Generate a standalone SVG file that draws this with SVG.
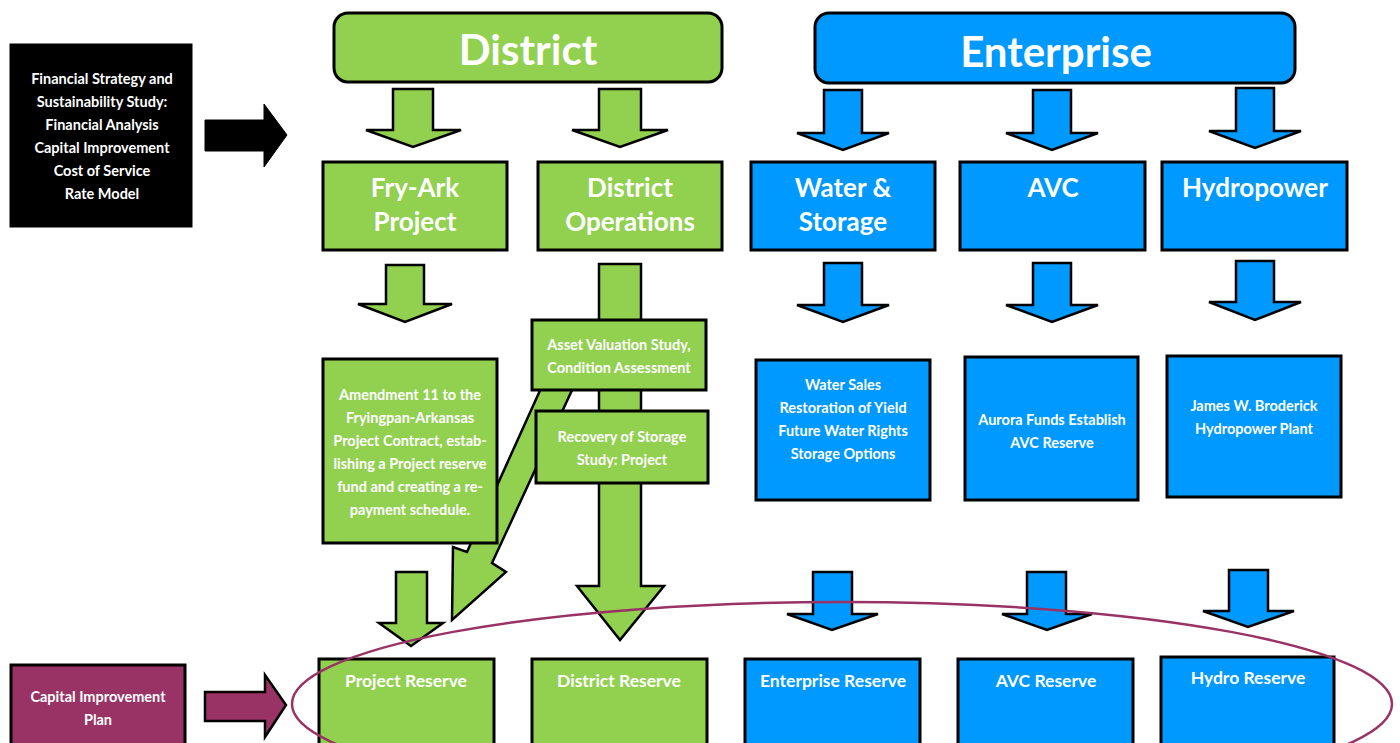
<svg xmlns="http://www.w3.org/2000/svg" width="1400" height="743" viewBox="0 0 1400 743">
  <style>
    .g { fill: #92D050; stroke: #000; stroke-width: 3; }
    .b { fill: #0099FF; stroke: #000; stroke-width: 3; }
    .k { fill: #000; stroke: #000; stroke-width: 1; }
    .p { fill: #993366; stroke: #000; stroke-width: 3; }
    .ag { fill: #92D050; stroke: #000; stroke-width: 2.5; stroke-linejoin: miter; }
    .ab { fill: #0099FF; stroke: #000; stroke-width: 2.5; stroke-linejoin: miter; }
    text { font-family: Lato, "Open Sans", "Liberation Sans", sans-serif; font-weight: bold; fill: #fff; text-anchor: middle; dominant-baseline: central; }
    .hd { font-size: 42px; }
    .t2 { font-size: 26px; }
    .sm { font-size: 14.5px; }
    .rs { font-size: 17.5px; }
  </style>

  <!-- block arrows -->
  <g id="connectors">
    <!-- study feeds the structure -->
    <polygon class="k" points="205,120 264,120 264,104 287,135 264,167 264,151 205,151"/>
    <!-- plan feeds the reserves -->
    <polygon class="p" style="stroke-width:2.5" points="205,692 265,692 265,675 286,705 265,737 265,721 205,721"/>

    <!-- District to its two branches -->
    <polygon class="ag" points="393,89 433,89 433,130 461,130 413,147 366,130 393,130"/>
    <polygon class="ag" points="599,89 641,89 641,130 668,130 620,147 572,130 599,130"/>
    <!-- Enterprise to its three branches -->
    <polygon class="ab" points="824,90 862,90 862,133 889,133 843,150 797,133 824,133"/>
    <polygon class="ab" points="1033,90 1071,90 1071,133 1098,133 1052,150 1006,133 1033,133"/>
    <polygon class="ab" points="1236,88 1274,88 1274,131 1301,131 1255,148 1209,131 1236,131"/>

    <!-- second row -->
    <polygon class="ag" points="386,265 424,265 424,304 452,304 405,322 358,304 386,304"/>
    <polygon class="ab" points="824,263 862,263 862,305 889,305 843,322 797,305 824,305"/>
    <polygon class="ab" points="1033,263 1071,263 1071,305 1098,305 1052,322 1006,305 1033,305"/>
    <polygon class="ab" points="1236,261 1274,261 1274,302 1301,302 1255,320 1209,302 1236,302"/>
    <!-- District Operations straight down to District Reserve -->
    <polygon class="ag" points="599,264 641,264 641,586 664,586 620,640 577,586 599,586"/>
    <!-- Asset valuation across to Project Reserve -->
    <polygon class="ag" points="547,375 579,375 492,563 506,572 452,620 453,547 467,552"/>

    <!-- into the reserves -->
    <polygon class="ag" points="396,572 427,572 427,623 443,623 411,646 379,623 396,623"/>
    <polygon class="ab" points="813,572 852,572 852,614 878,614 832,630 787,614 813,614"/>
    <polygon class="ab" points="1027,572 1066,572 1066,614 1092,614 1047,630 1002,614 1027,614"/>
    <polygon class="ab" points="1229,570 1268,570 1268,611 1294,611 1248,627 1203,611 1229,611"/>
  </g>

  <!-- studies and plans -->
  <g id="study">
    <rect class="k" x="10" y="44" width="182" height="183"/>
    <text class="sm" x="102" y="78">Financial Strategy and</text>
    <text class="sm" x="102" y="101">Sustainability Study:</text>
    <text class="sm" x="102" y="124">Financial Analysis</text>
    <text class="sm" x="102" y="147">Capital Improvement</text>
    <text class="sm" x="102" y="170">Cost of Service</text>
    <text class="sm" x="102" y="193">Rate Model</text>
  </g>
  <g id="cip">
    <rect class="p" x="11" y="665" width="174" height="90"/>
    <text class="sm" x="98" y="696">Capital Improvement</text>
    <text class="sm" x="98" y="719">Plan</text>
  </g>

  <!-- headers -->
  <g id="district">
    <rect class="g" x="334" y="13" width="388" height="69" rx="14"/>
    <text class="hd" x="528" y="49">District</text>
  </g>
  <g id="enterprise">
    <rect class="b" x="815" y="13" width="480" height="70" rx="14"/>
    <text class="hd" x="1056" y="51">Enterprise</text>
  </g>

  <!-- branches -->
  <g id="fry-ark">
    <rect class="g" x="323" y="162" width="184" height="88"/>
    <text class="t2" x="415" y="187">Fry-Ark</text>
    <text class="t2" x="415" y="221">Project</text>
  </g>
  <g id="district-ops">
    <rect class="g" x="538" y="162" width="184" height="88"/>
    <text class="t2" x="630" y="187">District</text>
    <text class="t2" x="630" y="221">Operations</text>
  </g>
  <g id="water-storage">
    <rect class="b" x="751" y="162" width="184" height="88"/>
    <text class="t2" x="843" y="187">Water &amp;</text>
    <text class="t2" x="843" y="221">Storage</text>
  </g>
  <g id="avc">
    <rect class="b" x="960" y="162" width="185" height="88"/>
    <text class="t2" x="1053" y="187">AVC</text>
  </g>
  <g id="hydropower">
    <rect class="b" x="1162" y="162" width="185" height="88"/>
    <text class="t2" x="1255" y="187">Hydropower</text>
  </g>

  <!-- actions -->
  <g id="amendment">
    <rect class="g" x="323" y="359" width="174" height="184"/>
    <text class="sm" x="410" y="394">Amendment 11 to the</text>
    <text class="sm" x="410" y="417">Fryingpan-Arkansas</text>
    <text class="sm" x="410" y="440">Project Contract, estab-</text>
    <text class="sm" x="410" y="463">lishing a Project reserve</text>
    <text class="sm" x="410" y="486">fund and creating a re-</text>
    <text class="sm" x="410" y="509">payment schedule.</text>
  </g>
  <g id="asset-valuation">
    <rect class="g" x="532" y="320" width="174" height="70"/>
    <text class="sm" x="619" y="344">Asset Valuation Study,</text>
    <text class="sm" x="619" y="367">Condition Assessment</text>
  </g>
  <g id="recovery-storage">
    <rect class="g" x="536" y="411" width="172" height="72"/>
    <text class="sm" x="622" y="436">Recovery of Storage</text>
    <text class="sm" x="622" y="459">Study: Project</text>
  </g>
  <g id="water-sales">
    <rect class="b" x="756" y="360" width="174" height="140"/>
    <text class="sm" x="843" y="384">Water Sales</text>
    <text class="sm" x="843" y="407">Restoration of Yield</text>
    <text class="sm" x="843" y="430">Future Water Rights</text>
    <text class="sm" x="843" y="453">Storage Options</text>
  </g>
  <g id="aurora">
    <rect class="b" x="965" y="357" width="173" height="143"/>
    <text class="sm" x="1052" y="419">Aurora Funds Establish</text>
    <text class="sm" x="1052" y="442">AVC Reserve</text>
  </g>
  <g id="broderick">
    <rect class="b" x="1167" y="356" width="174" height="141"/>
    <text class="sm" x="1254" y="405">James W. Broderick</text>
    <text class="sm" x="1254" y="428">Hydropower Plant</text>
  </g>

  <!-- reserves -->
  <g id="project-reserve">
    <rect class="g" x="319" y="659" width="175" height="100"/>
    <text class="rs" x="406" y="680">Project Reserve</text>
  </g>
  <g id="district-reserve">
    <rect class="g" x="532" y="659" width="175" height="100"/>
    <text class="rs" x="619" y="680">District Reserve</text>
  </g>
  <g id="enterprise-reserve">
    <rect class="b" x="745" y="659" width="175" height="100"/>
    <text class="rs" x="833" y="680">Enterprise Reserve</text>
  </g>
  <g id="avc-reserve">
    <rect class="b" x="958" y="659" width="175" height="100"/>
    <text class="rs" x="1046" y="680">AVC Reserve</text>
  </g>
  <g id="hydro-reserve">
    <rect class="b" x="1161" y="657" width="173" height="100"/>
    <text class="rs" x="1248" y="677">Hydro Reserve</text>
  </g>

  <!-- ring round the reserves -->
  <ellipse cx="842" cy="704" rx="550" ry="102" fill="none" stroke="#993366" stroke-width="2.5"/>
</svg>
